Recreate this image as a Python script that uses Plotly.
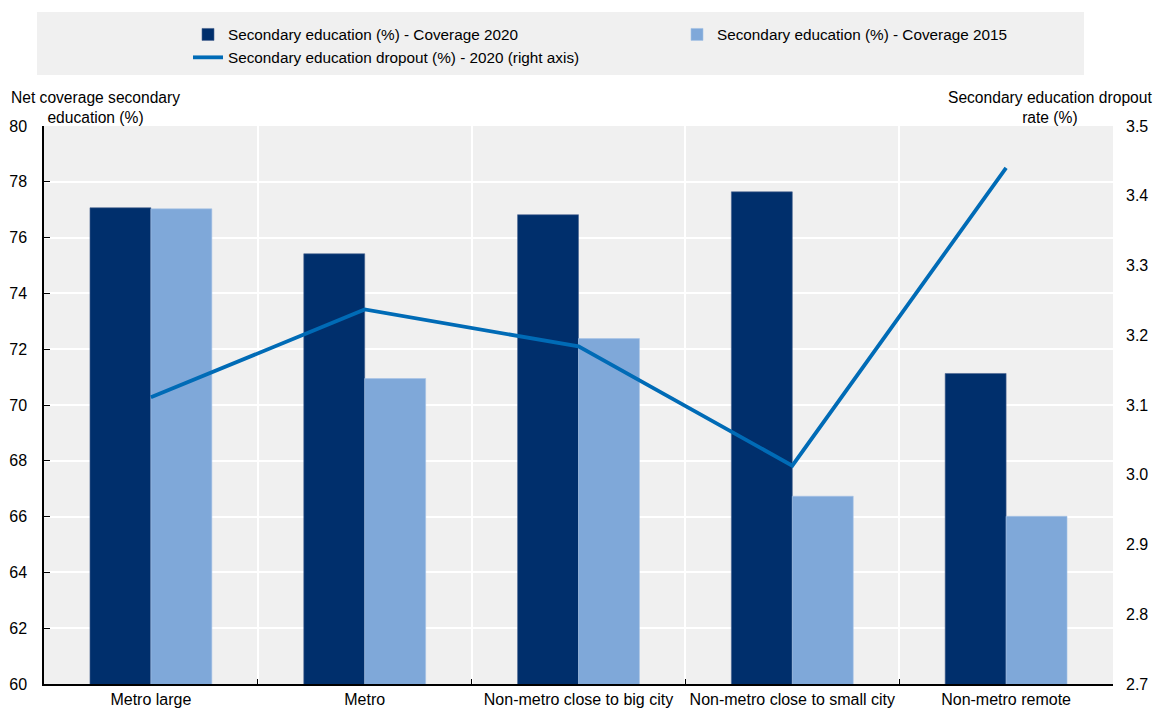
import plotly.graph_objects as go

categories = ["Metro large", "Metro", "Non-metro close to big city",
              "Non-metro close to small city", "Non-metro remote"]
coverage_2020 = [77.07, 75.42, 76.82, 77.64, 71.13]
coverage_2015 = [77.03, 70.95, 72.38, 66.73, 66.01]
dropout_2020 = [3.111, 3.237, 3.184, 3.013, 3.440]

left_ticks = list(range(60, 81, 2))
right_ticks = [2.7, 2.8, 2.9, 3.0, 3.1, 3.2, 3.3, 3.4, 3.5]

FONT = "Liberation Sans, Arial, sans-serif"
BG = "#f0f0f0"

# plot area in pixels
L, R, T, B = 44, 1113, 126, 684
W, H = R - L, B - T


def px_x(x):
    return (x - L) / W


def px_y(y):
    return (B - y) / H


fig = go.Figure()
fig.add_trace(go.Bar(
    x=categories, y=coverage_2020, name="Secondary education (%) - Coverage 2020",
    marker=dict(color="#002f6c", line=dict(color="#4a6590", width=0.6)),
))
fig.add_trace(go.Bar(
    x=categories, y=coverage_2015, name="Secondary education (%) - Coverage 2015",
    marker=dict(color="#7fa8d9", line=dict(color="#a6c2e6", width=0.6)),
))
fig.add_trace(go.Scatter(
    x=categories, y=dropout_2020, yaxis="y2", mode="lines",
    name="Secondary education dropout (%) - 2020 (right axis)",
    line=dict(color="#006bb6", width=3.8),
))

fig.update_layout(
    width=1153, height=708,
    margin=dict(l=L, r=1153 - R, t=T, b=708 - B, autoexpand=False),
    paper_bgcolor="white", plot_bgcolor=BG,
    font=dict(family=FONT, size=16, color="#000000"),
    barmode="group", bargap=0.43, bargroupgap=0,
    showlegend=True,
    legend=dict(
        orientation="h", x=px_x(188), xanchor="left", y=px_y(18), yanchor="top",
        bgcolor="rgba(0,0,0,0)", entrywidth=444, entrywidthmode="pixels",
        font=dict(family=FONT, size=15.3, color="#000000"), traceorder="normal",
    ),
    xaxis=dict(
        type="category", tickson="boundaries", showgrid=True, gridcolor="white",
        gridwidth=2, showline=True, linecolor="#000000", linewidth=1.5,
        ticks="inside", ticklen=5, tickcolor="#000000", zeroline=False,
        tickangle=0, automargin=False, tickfont=dict(size=16),
    ),
    yaxis=dict(
        range=[60, 80], tickvals=left_ticks, showgrid=True, gridcolor="white",
        gridwidth=2, showline=True, linecolor="#000000", linewidth=1.5,
        ticks="inside", ticklen=6, tickcolor="#000000", zeroline=False,
        automargin=False, ticklabelstandoff=12, tickfont=dict(size=16),
    ),
    yaxis2=dict(
        overlaying="y", side="right", range=[2.7, 3.5], tickvals=right_ticks,
        tickformat=".1f", showgrid=False, showline=False, zeroline=False,
        ticks="", automargin=False, ticklabelstandoff=12, tickfont=dict(size=16),
    ),
    shapes=[dict(
        type="rect", xref="paper", yref="paper", layer="below",
        x0=px_x(37), x1=px_x(1084), y0=px_y(75), y1=px_y(12),
        fillcolor=BG, line=dict(width=0),
    )],
    annotations=[
        dict(text="Net coverage secondary<br>education (%)", xref="paper", yref="paper",
             x=px_x(95), y=px_y(87), xanchor="center", yanchor="top",
             align="center", showarrow=False, font=dict(size=15.6)),
        dict(text="Secondary education dropout<br>rate (%)", xref="paper", yref="paper",
             x=px_x(1050), y=px_y(87), xanchor="center", yanchor="top",
             align="center", showarrow=False, font=dict(size=15.6)),
    ],
)

fig.write_html("out.html")
